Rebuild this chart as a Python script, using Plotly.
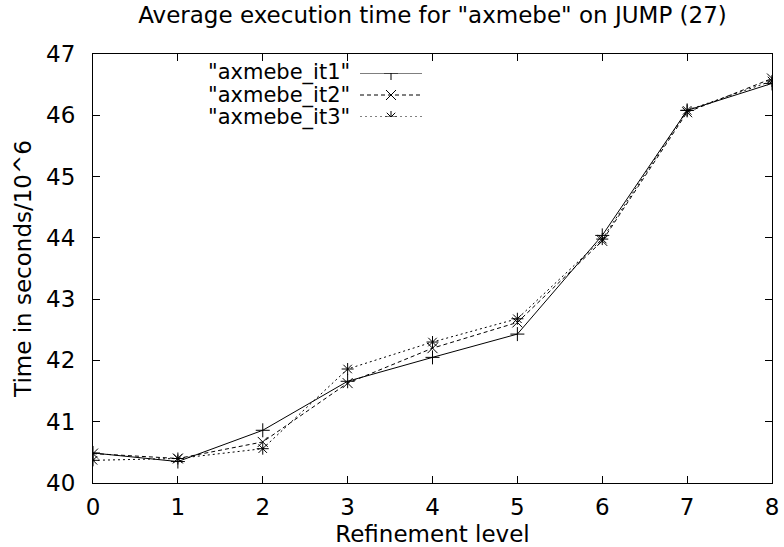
import plotly.graph_objects as go

levels = [0, 1, 2, 3, 4, 5, 6, 7, 8]
it1 = [40.49, 40.35, 40.86, 41.66, 42.05, 42.43, 44.04, 46.08, 46.52]
it2 = [40.48, 40.40, 40.67, 41.63, 42.20, 42.62, 43.95, 46.05, 46.60]
it3 = [40.37, 40.40, 40.56, 41.86, 42.30, 42.68, 43.98, 46.08, 46.56]
names = ['"axmebe_it1"', '"axmebe_it2"', '"axmebe_it3"']
dashes = ["solid", "4px,3px", "2px,3px"]
symbols = ["cross-thin", "x-thin", "asterisk"]
title = 'Average execution time for "axmebe" on JUMP (27)'
xlabel = "Refinement level"
ylabel = "Time in seconds/10^6"

FONT = "DejaVu Sans, Liberation Sans, sans-serif"
FS = 23
LEG_FS = 21

W, H = 784, 547
L, R, T, B = 93, 12, 54, 64
pw = W - L - R
ph = H - T - B

fig = go.Figure()
for ys, nm, ds, sy in zip([it1, it2, it3], names, dashes, symbols):
    fig.add_trace(go.Scatter(
        x=levels, y=ys, mode="lines+markers", name=nm, showlegend=False,
        line=dict(color="black", width=1, dash=ds),
        marker=dict(symbol=sy, size=10, color="black",
                    line=dict(color="black", width=1)),
    ))

# custom gnuplot-style legend (text right-aligned, sample to the right)
lx0, lx1 = 360, 422
text_right = 351
rows = [73, 95, 117]
x2d = [(lx0 - L) / pw, (lx1 - L) / pw]
y2d = [1 - (rows[2] - T) / ph, 1 - (rows[0] - T) / ph]
for i, (nm, ds, sy) in enumerate(zip(names, dashes, symbols)):
    fig.add_trace(go.Scatter(
        x=[0, 1], y=[i, i], mode="lines", xaxis="x2", yaxis="y2",
        showlegend=False, hoverinfo="skip",
        line=dict(color="black", width=1, dash=ds),
    ))
    fig.add_trace(go.Scatter(
        x=[0.5], y=[i], mode="markers", xaxis="x2", yaxis="y2",
        showlegend=False, hoverinfo="skip",
        marker=dict(symbol=sy, size=10, color="black",
                    line=dict(color="black", width=1)),
    ))
    fig.add_annotation(
        x=(text_right - L) / pw, y=1 - (rows[i] - T) / ph,
        xref="paper", yref="paper", text=nm, showarrow=False,
        xanchor="right", yanchor="middle", borderpad=0,
        font=dict(family=FONT, size=LEG_FS, color="black"),
    )

axis_common = dict(
    showline=True, linecolor="black", linewidth=1, mirror="allticks",
    ticks="inside", ticklen=7, tickcolor="black", tickwidth=1,
    showgrid=False, zeroline=False,
    tickfont=dict(family=FONT, size=FS, color="black"),
)

fig.update_layout(
    width=W, height=H,
    margin=dict(l=L, r=R, t=T, b=B, autoexpand=False),
    paper_bgcolor="white", plot_bgcolor="white",
    font=dict(family=FONT, size=FS, color="black"),
    title=dict(text=title, x=0.5, xref="paper", y=1 - 15 / H, yref="container",
               xanchor="center", yanchor="middle",
               font=dict(family=FONT, size=FS, color="black")),
    xaxis=dict(range=[0, 8], tickmode="array", tickvals=levels,
               ticktext=[str(v) for v in levels],
               title=dict(text=xlabel, standoff=8,
                          font=dict(family=FONT, size=FS, color="black")),
               ticklabelstandoff=3,
               **axis_common),
    yaxis=dict(range=[40, 47], tickmode="array",
               tickvals=[40, 41, 42, 43, 44, 45, 46, 47],
               title=dict(text=ylabel, standoff=8,
                          font=dict(family=FONT, size=FS, color="black")),
               ticklabelstandoff=12,
               **axis_common),
    xaxis2=dict(domain=x2d, range=[0, 1], visible=False, fixedrange=True,
                anchor="y2"),
    yaxis2=dict(domain=y2d, range=[2, 0], visible=False, fixedrange=True,
                anchor="x2"),
)

fig.write_html("out.html")
